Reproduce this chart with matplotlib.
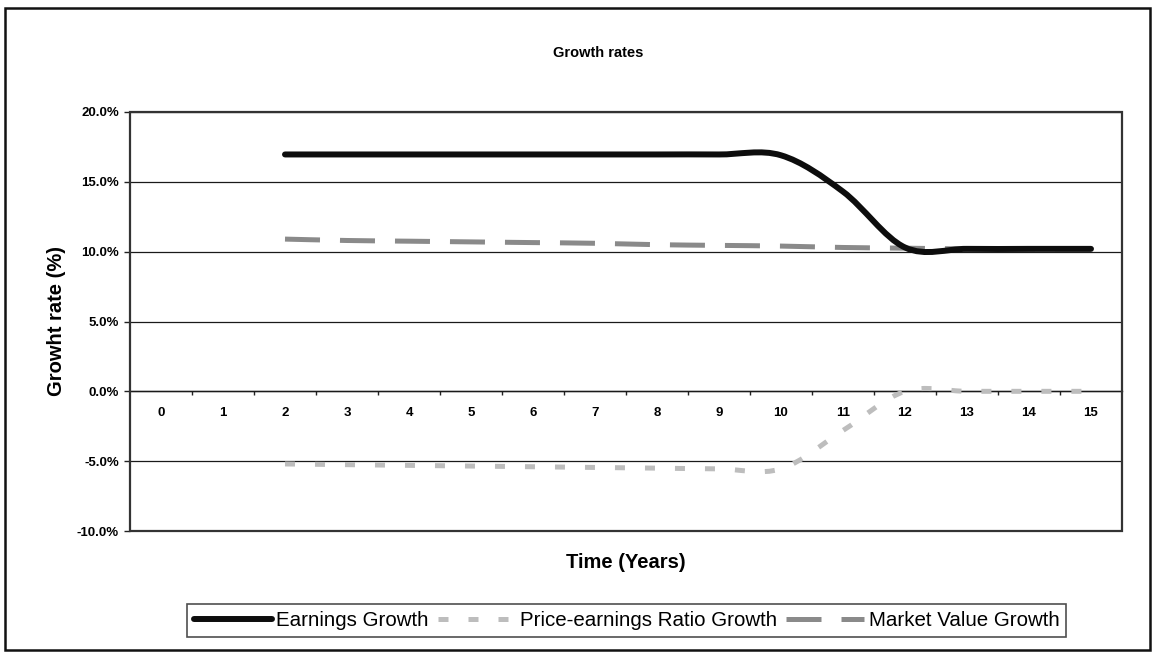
import matplotlib
matplotlib.use("Agg")
import matplotlib.pyplot as plt
import numpy as np
from matplotlib.path import Path
from matplotlib.patches import PathPatch, Rectangle
from matplotlib.lines import Line2D
from matplotlib.ticker import FixedLocator, FuncFormatter

plt.rcParams['font.family'] = ['Liberation Sans', 'DejaVu Sans']

# Years shown on the category axis and the years that carry values
years = list(range(0, 16))
series_years = list(range(2, 16))

# Growth rates per year (fractions), years 2..15
earnings_growth = [0.1696, 0.1696, 0.1696, 0.1696, 0.1696, 0.1696, 0.1696, 0.1696,
                   0.1690, 0.1430, 0.1030, 0.1020, 0.1020, 0.1020]
pe_ratio_growth = [-0.0520, -0.0525, -0.0530, -0.0535, -0.0540, -0.0545, -0.0550,
                   -0.0555, -0.0555, -0.0280, 0.0000, 0.0000, 0.0000, 0.0000]
market_value_growth = [0.1090, 0.1080, 0.1075, 0.1070, 0.1065, 0.1060, 0.1050,
                       0.1045, 0.1040, 0.1030, 0.1025, 0.1020, 0.1020, 0.1020]

labels = ['Earnings Growth', 'Price-earnings Ratio Growth', 'Market Value Growth']
y_ticks = [-0.10, -0.05, 0.0, 0.05, 0.10, 0.15, 0.20]


def smooth_path(xs, ys):
    # Spreadsheet-style smoothed line: Catmull-Rom segments as cubic Beziers
    pts = np.column_stack([xs, ys]).astype(float)
    n = len(pts)
    verts = [pts[0]]
    codes = [Path.MOVETO]
    for i in range(n - 1):
        p0 = pts[max(i - 1, 0)]
        p1 = pts[i]
        p2 = pts[i + 1]
        p3 = pts[min(i + 2, n - 1)]
        verts += [p1 + (p2 - p0) / 6.0, p2 - (p3 - p1) / 6.0, p2]
        codes += [Path.CURVE4] * 3
    return Path(verts, codes)


fig = plt.figure(figsize=(11.55, 6.54), dpi=100)
W, H = 1155.0, 654.0
ax = fig.add_axes([130 / W, 1 - 531 / H, (1122 - 130) / W, (531 - 112) / H])

ax.set_xlim(-0.5, 15.5)
ax.set_ylim(-0.10, 0.20)

styles = [
    dict(color='#0d0d0d', lw=4.3, ls='solid', cap='round'),
    dict(color='#bdbdbd', lw=3.6, ls=(0, (2.0, 4.0)), cap='butt'),
    dict(color='#8a8a8a', lw=3.6, ls=(0, (7, 4)), cap='butt'),
]
data = [earnings_growth, pe_ratio_growth, market_value_growth]
draw_order = [1, 2, 0]
for z, k in enumerate(draw_order):
    st = styles[k]
    patch = PathPatch(smooth_path(series_years, data[k]), fill=False,
                      edgecolor=st['color'], lw=st['lw'], linestyle=st['ls'],
                      capstyle=st['cap'], joinstyle='round', zorder=3 + z)
    ax.add_patch(patch)

# horizontal gridlines
ax.yaxis.set_major_locator(FixedLocator(y_ticks))
ax.yaxis.set_major_formatter(FuncFormatter(lambda v, p: '{:.1%}'.format(v)))
ax.grid(axis='y', color='#1a1a1a', lw=0.9)
ax.set_axisbelow(True)
ax.tick_params(axis='y', direction='out', length=4, width=1, pad=4,
               labelsize=9.5, color='#222')
for t in ax.get_yticklabels():
    t.set_fontweight('bold')

# category axis sits on the zero line
ax.spines['bottom'].set_position(('data', 0))
ax.spines['bottom'].set_color('#1a1a1a')
ax.spines['bottom'].set_linewidth(1.0)
for s in ['left', 'right', 'top']:
    ax.spines[s].set_color('#333333')
    ax.spines[s].set_linewidth(1.4)
ax.add_patch(Rectangle((0, 0), 1, 1, transform=ax.transAxes, fill=False,
                       ec='#333333', lw=1.6, clip_on=False, zorder=10))

ax.xaxis.set_major_locator(FixedLocator([y + 0.5 for y in years[:-1]]))
ax.xaxis.set_major_formatter(FuncFormatter(lambda v, p: ''))
ax.xaxis.set_minor_locator(FixedLocator(years))
ax.xaxis.set_minor_formatter(FuncFormatter(lambda v, p: '%d' % round(v)))
ax.tick_params(axis='x', which='major', direction='out', length=3, width=1, color='#222')
ax.tick_params(axis='x', which='minor', length=0, pad=11, labelsize=9.5)
for t in ax.get_xticklabels(minor=True):
    t.set_fontweight('bold')

fig.text(598 / W, 1 - 53 / H, 'Growth rates', ha='center', va='center',
         fontsize=10.5, fontweight='bold')
fig.text(57 / W, 1 - 321.5 / H, 'Growht rate (%)', ha='center', va='center',
         rotation=90, fontsize=14.5, fontweight='bold')
fig.text(626 / W, 1 - 562 / H, 'Time (Years)', ha='center', va='center',
         fontsize=14.5, fontweight='bold')

handles = [Line2D([], [], color=st['color'], lw=st['lw'], linestyle=st['ls'],
                  solid_capstyle=st['cap'], dash_capstyle='butt') for st in styles]
leg = fig.legend(handles, labels, loc='center', ncol=3,
                 bbox_to_anchor=(626.5 / W, 1 - 620.5 / H), fontsize=14.8,
                 frameon=True, fancybox=False, borderpad=0.35, handlelength=3.8,
                 handletextpad=0.2, columnspacing=0.45, borderaxespad=0)
leg.get_frame().set_edgecolor('#222222')
leg.get_frame().set_linewidth(1.2)

# chart border
fig.add_artist(Rectangle((5 / W, 4 / H), (1150 - 5) / W, (648 - 6) / H,
                         transform=fig.transFigure, fill=False, ec='#111111', lw=1.8))

fig.savefig('out.png', dpi=100)
